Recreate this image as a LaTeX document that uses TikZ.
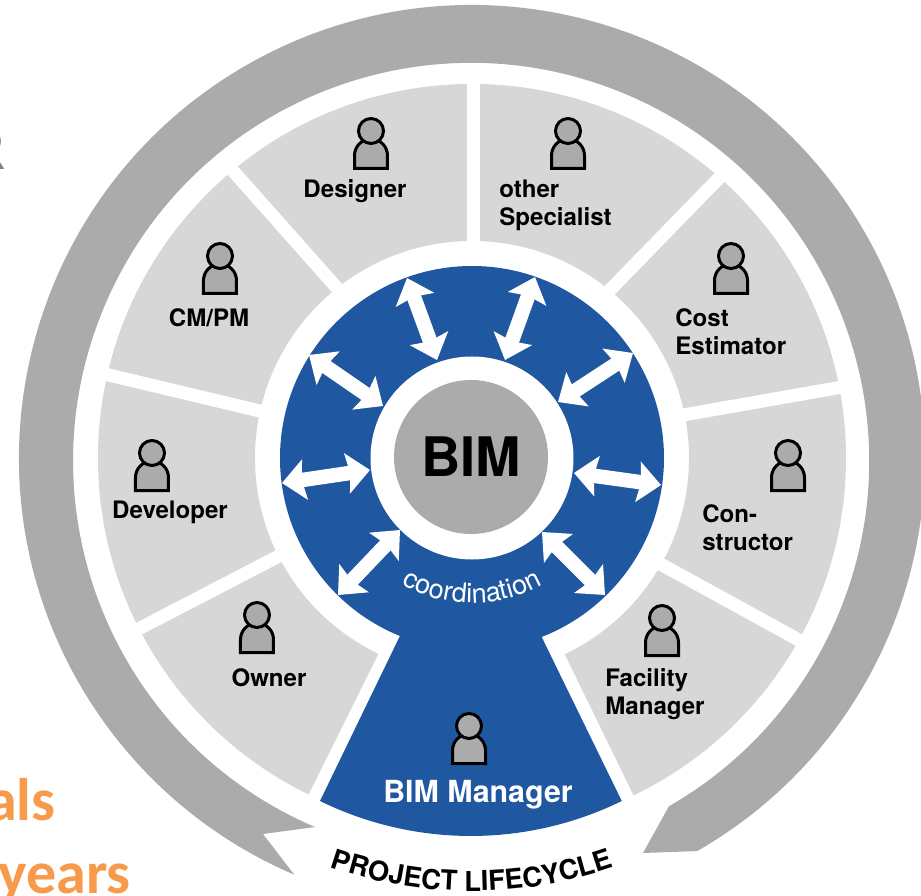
\documentclass[tikz,border=0pt]{standalone}
\usepackage{fontspec}
\setmainfont{TeX Gyre Heros}
\newfontfamily\calibrifont{Carlito}
\usetikzlibrary{arrows.meta,decorations.text,positioning}
\definecolor{ringgray}{HTML}{ABABAB}
\definecolor{wedgegray}{HTML}{D7D7D7}
\definecolor{bimblue}{HTML}{1F58A0}
\definecolor{slideorange}{HTML}{F79A4B}
\definecolor{slidegray}{HTML}{808080}
\newcommand{\labelfont}{\fontsize{13.7}{16}\selectfont\bfseries}
\newcommand{\ringfont}{\fontsize{15.6}{18}\selectfont\bfseries}
\newcommand{\coordfont}{\fontsize{15.4}{18}\selectfont}
\newcommand{\slidefont}{\calibrifont\fontsize{34.2}{41}\selectfont\bfseries}
\tikzset{
   role/.style={draw=none,font=\labelfont,text=black,inner sep=0pt,align=left},
   rolewest/.style={role,anchor=west},
   separator/.style={white,line width=2.6mm},
   dblarrow/.style={white,line width=2.9mm,
      {Stealth[length=4.6mm,width=8mm,inset=0.6mm]}-{Stealth[length=4.6mm,width=8mm,inset=0.6mm]}},
   slidetext/.style={draw=none,font=\slidefont,inner sep=0pt,anchor=base east},
   personicon/.pic={
      \begin{scope}[scale=2]
         \draw[black,fill=ringgray,line width=0.6mm] (-0.165,-0.375) -- (-0.165,-0.245)
            arc[start angle=180,end angle=0,radius=0.165] -- (0.165,-0.375) -- cycle;
         \draw[black,fill=ringgray,line width=0.6mm] (0,0) circle (0.125);
      \end{scope}
   }
}
\begin{document}
\begin{tikzpicture}[scale=2]

   \clip (-4.72,4.58) rectangle (4.49,-4.37);
   \useasboundingbox (-4.72,4.58) rectangle (4.49,-4.37);

   % text of the slide behind the figure
   \node[slidetext,text=slidegray] (slideR) at (-4.66,2.88) {R};
   \node[slidetext,text=slideorange] (slideals) at (-4.16,-3.62) {als};
   \node[slidetext,text=slideorange] (slideyears) at (-3.41,-4.35) {years};

   % lifecycle ring
   \fill[ringgray] (-60.2:4.53) arc[start angle=-60.2,end angle=246.9,radius=4.53]
      -- (-2.09,-3.76) -- (-1.57,-3.69)
      arc[start angle=246.9,end angle=-60.2,radius=3.98]
      -- (1.71,-3.95) -- cycle;

   % wedges
   \fill[wedgegray,even odd rule] (0,0) circle (3.74) (0,0) circle (2.17);
   \foreach \ox/\oy/\ix/\iy in {0.015/3.85/0.015/2.05, 2.554/2.886/1.286/1.584,
      3.795/0.726/1.992/0.409, 3.375/-1.878/1.775/-1.0, -3.423/-1.755/-1.824/-0.925,
      -3.75/0.858/-2.003/0.442, -2.46/2.95/-1.27/1.61} {
      \draw[separator] (\ox,\oy) -- (\ix,\iy);
   }
   \fill[white] (-0.93,-1.95) -- (-1.71,-3.52) -- (1.69,-3.53) -- (0.92,-1.95) -- cycle;

   % blue part
   \fill[bimblue] (0,0) circle (1.92);
   \fill[bimblue] (-0.595,-1.52) -- (-1.52,-3.43)
      arc[start angle=243.9,end angle=296.1,radius=3.43]
      -- (0.565,-1.52) -- cycle;
   \fill[white] (0,0) circle (1.015);
   \node[circle,fill=ringgray,minimum size=3.08cm,inner sep=0pt,
      font=\fontsize{31}{36}\selectfont\bfseries] (bim) at (-0.01,0.01) {BIM};

   % arrows
   \foreach \n/\ox/\oy/\ix/\iy in {1/-0.65/1.80/-0.35/0.98, 2/0.63/1.81/0.33/0.98,
      3/1.61/1.05/0.86/0.56, 4/1.89/-0.27/1.02/-0.15, 5/1.33/-1.37/0.70/-0.74,
      6/-1.34/-1.37/-0.72/-0.72, 7/-1.90/-0.25/-1.02/-0.12, 8/-1.63/1.03/-0.89/0.52} {
      \coordinate (out\n) at (\ox,\oy);
      \coordinate (in\n) at (\ix,\iy);
      \draw[dblarrow] (out\n) -- (in\n);
   }

   % curved labels
   \path[decorate,decoration={text along path,text align=center,
      text={|\coordfont\color{white}|coordination}}]
      (225:1.45) arc[start angle=225,end angle=315,radius=1.45];
   \path[decorate,decoration={text along path,text align=center,
      text={|\ringfont\color{black}|PROJECT LIFECYCLE}}]
      (235:4.33) arc[start angle=235,end angle=305,radius=4.33];

   % roles
   \pic at (-1.01,3.27) {personicon};
   \pic at (0.96,3.27) {personicon};
   \pic at (-2.52,2.02) {personicon};
   \pic at (2.59,2.02) {personicon};
   \pic at (-3.20,0.05) {personicon};
   \pic at (3.16,0.05) {personicon};
   \pic at (-2.15,-1.57) {personicon};
   \pic at (1.90,-1.60) {personicon};
   \pic at (-0.03,-2.68) {personicon};

   \node[role] (designer) at (-1.17,2.665) {Designer};
   \node[role] (cmpm) at (-2.63,1.405) {CM/PM};
   \node[role] (developer) at (-3.02,-0.54) {Developer};
   \node[role] (owner) at (-2.03,-2.195) {Owner};
   \node[rolewest] (specialist) at (0.27,2.525) {other\\Specialist};
   \node[rolewest] (estimator) at (2.03,1.265) {Cost\\Estimator};
   \node[rolewest] (constructor) at (2.30,-0.70) {Con-\\structor};
   \node[rolewest] (facility) at (1.33,-2.365) {Facility\\Manager};
   \node[role,text=white,font=\fontsize{17.3}{20}\selectfont\bfseries] (manager) at (0.06,-3.365) {BIM Manager};

\end{tikzpicture}
\end{document}
